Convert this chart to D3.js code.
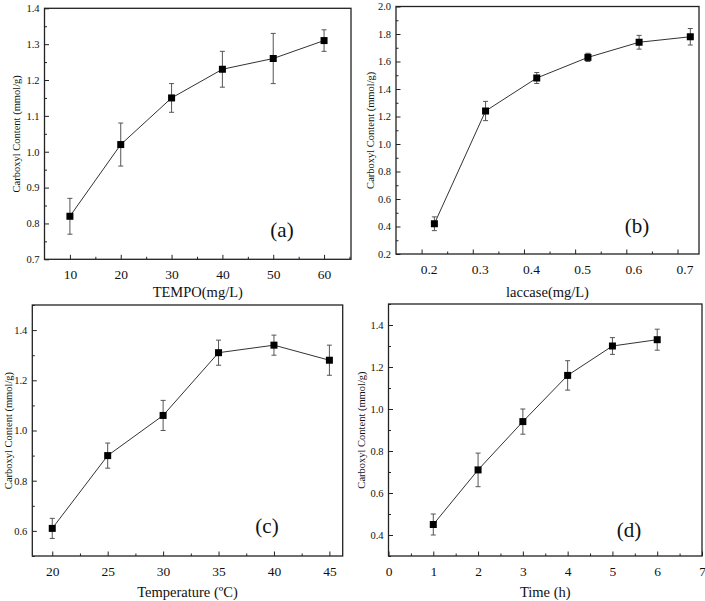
<!DOCTYPE html>
<html>
<head>
<meta charset="utf-8">
<script src="https://cdn.jsdelivr.net/npm/d3@7"></script>
<style>
  body { margin: 0; background: #fff; }
  svg text { font-family: "Liberation Serif", "Times New Roman", serif; fill: #111; }
</style>
</head>
<body>
<div id="chart"></div>
<script>
// (a) TEMPO dosage
const tempoDose = [10, 20, 30, 40, 50, 60];
const tempoCarboxyl = [0.82, 1.02, 1.15, 1.23, 1.26, 1.31];
const tempoErr = [0.05, 0.06, 0.04, 0.05, 0.07, 0.03];

// (b) laccase dosage (points sit a little right of the tick marks)
const laccaseDose = [0.225, 0.325, 0.425, 0.525, 0.625, 0.725];
const laccaseCarboxyl = [0.42, 1.24, 1.48, 1.63, 1.74, 1.78];
const laccaseErr = [0.05, 0.07, 0.04, 0.03, 0.05, 0.06];

// (c) temperature
const temperature = [20, 25, 30, 35, 40, 45];
const tempCarboxyl = [0.61, 0.90, 1.06, 1.31, 1.34, 1.28];
const tempErr = [0.04, 0.05, 0.06, 0.05, 0.04, 0.06];

// (d) reaction time
const time = [1, 2, 3, 4, 5, 6];
const timeCarboxyl = [0.45, 0.71, 0.94, 1.16, 1.30, 1.33];
const timeErr = [0.05, 0.08, 0.06, 0.07, 0.04, 0.05];

const W = 705, H = 601;
const serif = "Liberation Serif, Times New Roman, serif";

const svg = d3.select("#chart").append("svg")
  .attr("width", W)
  .attr("height", H);

const panels = [
  {
    x: tempoDose, y: tempoCarboxyl, err: tempoErr,
    box: [44.5, 8.3, 351, 259.3],
    xDomain: [5, 65.3], yDomain: [0.7, 1.4],
    xTicks: d3.range(10, 61, 10), xMinor: d3.range(15, 66, 10),
    yTicks: d3.range(0.7, 1.41, 0.1), yMinor: d3.range(0.75, 1.4, 0.1),
    xFmt: d3.format("d"), yFmt: d3.format(".1f"), xLabelDx: 0,
    xTitle: "TEMPO(mg/L)", titleX: 16.3, titleY: 297, tag: "(a)", tagPos: [282, 237]
  },
  {
    x: laccaseDose, y: laccaseCarboxyl, err: laccaseErr,
    box: [396, 6.5, 699, 254],
    xDomain: [0.15, 0.742], yDomain: [0.2, 2.0],
    xTicks: d3.range(0.2, 0.71, 0.1), xMinor: d3.range(0.25, 0.74, 0.1),
    yTicks: d3.range(0.2, 2.01, 0.2), yMinor: d3.range(0.3, 2.0, 0.2),
    xFmt: d3.format(".1f"), yFmt: d3.format(".1f"), xLabelDx: 7,
    xTitle: "laccase(mg/L)", titleX: 370, titleY: 297, tag: "(b)", tagPos: [637, 233]
  },
  {
    x: temperature, y: tempCarboxyl, err: tempErr,
    box: [32.3, 305, 342.7, 556],
    xDomain: [18.2, 46.2], yDomain: [0.5, 1.5],
    xTicks: d3.range(20, 46, 5), xMinor: d3.range(22.5, 46, 5),
    yTicks: d3.range(0.6, 1.41, 0.2), yMinor: d3.range(0.5, 1.51, 0.2),
    xFmt: d3.format("d"), yFmt: d3.format(".1f"), xLabelDx: 0,
    xTitle: "Temperature (\u00BAC)", titleX: 8.5, titleY: 597, tag: "(c)", tagPos: [267, 533]
  },
  {
    x: time, y: timeCarboxyl, err: timeErr,
    box: [388.5, 304, 702, 556],
    xDomain: [0, 7], yDomain: [0.3, 1.5],
    xTicks: d3.range(0, 8, 1), xMinor: d3.range(0.5, 7, 1),
    yTicks: d3.range(0.4, 1.41, 0.2), yMinor: d3.range(0.3, 1.51, 0.2),
    xFmt: d3.format("d"), yFmt: d3.format(".1f"), xLabelDx: 0,
    xTitle: "Time (h)", titleX: 361.7, titleY: 597, tag: "(d)", tagPos: [629, 537]
  }
];

panels.forEach((p) => drawPanel(p));

function drawPanel(p) {
  const [x0, y0, x1, y1] = p.box;
  const w = x1 - x0;
  const h = y1 - y0;

  const g = svg.append("g").attr("transform", `translate(${x0},${y0})`);

  const xScale = d3.scaleLinear().domain(p.xDomain).range([0, w]);
  const yScale = d3.scaleLinear().domain(p.yDomain).range([h, 0]);

  // minor ticks first, pointing inward
  g.append("g")
    .attr("transform", `translate(0,${h})`)
    .call(d3.axisBottom(xScale).tickValues(p.xMinor).tickSizeInner(-2.5).tickSizeOuter(0).tickFormat(""))
    .call((a) => a.select(".domain").remove());
  g.append("g")
    .call(d3.axisLeft(yScale).tickValues(p.yMinor).tickSizeInner(-2.5).tickSizeOuter(0).tickFormat(""))
    .call((a) => a.select(".domain").remove());

  // major axes
  const xAxis = g.append("g")
    .attr("transform", `translate(0,${h})`)
    .call(d3.axisBottom(xScale).tickValues(p.xTicks).tickSizeInner(-4.5).tickSizeOuter(0)
      .tickPadding(10).tickFormat(p.xFmt))
    .attr("font-family", serif)
    .attr("font-size", 13.5);
  xAxis.select(".domain").remove();
  xAxis.selectAll(".tick text").attr("dx", p.xLabelDx);

  const yAxis = g.append("g")
    .call(d3.axisLeft(yScale).tickValues(p.yTicks).tickSizeInner(-4.5).tickSizeOuter(0)
      .tickPadding(5).tickFormat(p.yFmt))
    .attr("font-family", serif)
    .attr("font-size", 10.5);
  yAxis.select(".domain").remove();

  g.selectAll(".tick line").attr("stroke", "#222").attr("stroke-width", 1);

  // frame
  g.append("rect")
    .attr("width", w)
    .attr("height", h)
    .attr("fill", "none")
    .attr("stroke", "#222")
    .attr("stroke-width", 1.3);

  const pts = p.x.map((xv, i) => ({ x: xv, y: p.y[i], e: p.err[i] }));

  // connecting line
  const line = d3.line()
    .x((d) => xScale(d.x))
    .y((d) => yScale(d.y));
  g.append("path")
    .attr("d", line(pts))
    .attr("fill", "none")
    .attr("stroke", "#333")
    .attr("stroke-width", 1);

  // error bars
  const eb = g.selectAll(".err").data(pts).enter().append("g")
    .attr("stroke", "#555").attr("stroke-width", 1);
  eb.append("line")
    .attr("x1", (d) => xScale(d.x)).attr("x2", (d) => xScale(d.x))
    .attr("y1", (d) => yScale(d.y + d.e)).attr("y2", (d) => yScale(d.y - d.e));
  eb.append("line")
    .attr("x1", (d) => xScale(d.x) - 2.5).attr("x2", (d) => xScale(d.x) + 2.5)
    .attr("y1", (d) => yScale(d.y + d.e)).attr("y2", (d) => yScale(d.y + d.e));
  eb.append("line")
    .attr("x1", (d) => xScale(d.x) - 2.5).attr("x2", (d) => xScale(d.x) + 2.5)
    .attr("y1", (d) => yScale(d.y - d.e)).attr("y2", (d) => yScale(d.y - d.e));

  // square markers
  g.selectAll(".dot").data(pts).enter().append("rect")
    .attr("x", (d) => xScale(d.x) - 3.5)
    .attr("y", (d) => yScale(d.y) - 3.5)
    .attr("width", 7)
    .attr("height", 7)
    .attr("fill", "#000");

  // axis titles
  svg.append("text")
    .attr("x", x0 + w / 2)
    .attr("y", p.titleY)
    .attr("text-anchor", "middle")
    .attr("font-size", 14.5)
    .text(p.xTitle);

  svg.append("text")
    .attr("transform", `translate(${p.titleX},${y0 + h / 2}) rotate(-90)`)
    .attr("text-anchor", "middle")
    .attr("dy", "0.35em")
    .attr("font-size", 10.5)
    .text("Carboxyl Content (mmol/g)");

  // panel tag
  svg.append("text")
    .attr("x", p.tagPos[0])
    .attr("y", p.tagPos[1])
    .attr("text-anchor", "middle")
    .attr("font-size", 21)
    .text(p.tag);
}
</script>
</body>
</html>
